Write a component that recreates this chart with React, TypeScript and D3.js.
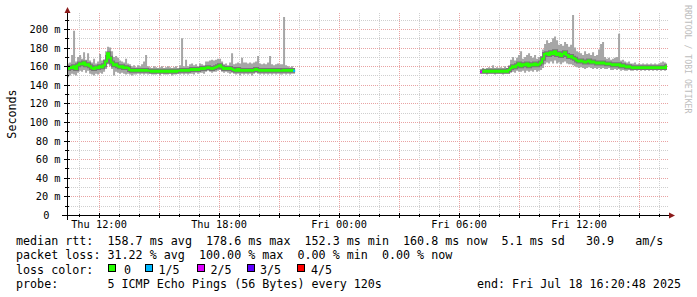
import React from 'react';
import * as d3 from 'd3';

// ---- time frame ----
const END = new Date(2025, 6, 18, 16, 20, 48);
const START = new Date(END.getTime() - 30 * 3600 * 1000);
const STEP_MIN = 6;

// ---- segment 1 (Thu) ----
const seg1Start = new Date(2025, 6, 17, 10, 24, 0);
const seg1Median = [
  157, 159, 158, 160, 157, 161, 163, 162, 164, 161, 162, 160, 158, 157, 159, 158, 160, 159, 161, 165,
  174, 169, 164, 161, 162, 160, 159, 160, 158, 159, 158, 156, 155, 156, 155, 156, 155, 156, 155, 156,
  155, 155, 154, 155, 154, 155, 154, 155, 154, 155, 154, 155, 154, 155, 154, 155, 155, 156, 155, 156,
  155, 156, 157, 156, 157, 156, 157, 158, 157, 158, 159, 158, 157, 158, 159, 160, 161, 159, 157, 158,
  157, 158, 157, 156, 155, 157, 155, 156, 155, 156, 155, 156, 155, 156, 157, 156, 155, 156, 155, 156,
  155, 156, 155, 156, 155, 156, 155, 155, 156, 155, 156, 155, 156, 155,
];
const seg1Min = [
  148, 150, 152, 151, 150, 153, 155, 154, 156, 153, 155, 152, 151, 150, 152, 151, 153, 152, 154, 157,
  162, 160, 157, 150, 154, 153, 152, 153, 152, 151, 152, 151, 150, 151, 151, 152, 151, 152, 151, 152,
  151, 152, 151, 151, 151, 152, 150, 152, 151, 151, 151, 152, 150, 151, 151, 152, 151, 152, 151, 152,
  151, 152, 152, 151, 153, 152, 153, 153, 152, 154, 155, 154, 153, 154, 154, 155, 156, 154, 153, 154,
  153, 152, 153, 152, 151, 152, 150, 152, 151, 152, 151, 152, 150, 152, 153, 152, 151, 152, 151, 152,
  151, 152, 151, 152, 151, 152, 151, 151, 152, 151, 152, 151, 152, 152,
];
const seg1Max = [
  163, 164, 172, 198, 165, 170, 172, 168, 175, 167, 174, 166, 164, 168, 163, 165, 173, 166, 167, 172,
  181, 180, 176, 170, 171, 169, 166, 165, 164, 168, 163, 162, 160, 161, 159, 161, 160, 162, 165, 172,
  160, 159, 158, 160, 159, 158, 159, 160, 158, 159, 160, 159, 158, 159, 160, 158, 161, 190, 160, 167,
  160, 162, 163, 161, 162, 160, 163, 162, 161, 165, 165, 166, 167, 166, 167, 168, 168, 165, 162, 163,
  161, 164, 174, 162, 163, 164, 163, 169, 164, 164, 163, 164, 163, 164, 165, 171, 163, 162, 163, 162,
  164, 171, 162, 161, 162, 163, 162, 162, 213, 161, 160, 159, 160, 158,
];

// ---- segment 2 (Fri) ----
const seg2Start = new Date(2025, 6, 18, 7, 3, 0);
const seg2Median = [
  154, 154, 155, 154, 155, 154, 155, 154, 155, 154, 155, 154, 155, 154, 156, 158, 160, 159, 161, 163,
  160, 162, 161, 163, 160, 162, 161, 163, 161, 162, 164, 168, 173, 174, 172, 175, 173, 176, 172, 174,
  171, 173, 175, 172, 170, 171, 169, 168, 166, 165, 166, 165, 164, 165, 166, 164, 165, 164, 163, 164,
  163, 164, 163, 162, 163, 162, 161, 162, 161, 162, 160, 161, 160, 159, 160, 159, 158, 159, 158, 159,
  158, 159, 158, 159, 158, 159, 158, 159, 158, 159, 158, 159, 158, 160,
];
const seg2Min = [
  152, 152, 152, 151, 152, 152, 152, 151, 152, 152, 152, 151, 152, 152, 152, 153, 154, 153, 155, 154,
  154, 155, 153, 155, 154, 155, 154, 156, 154, 155, 156, 158, 162, 164, 163, 165, 163, 166, 163, 164,
  162, 164, 165, 163, 162, 162, 161, 160, 159, 158, 159, 158, 157, 158, 159, 158, 157, 158, 157, 158,
  157, 158, 157, 157, 158, 156, 156, 157, 156, 157, 155, 156, 155, 155, 156, 155, 155, 156, 155, 156,
  155, 156, 155, 156, 155, 156, 155, 156, 155, 156, 155, 156, 155, 156,
];
const seg2Max = [
  157, 158, 157, 158, 159, 158, 161, 158, 159, 158, 159, 158, 160, 158, 161, 167, 170, 166, 169, 172,
  176, 168, 170, 172, 174, 171, 169, 172, 168, 170, 171, 178, 184, 188, 185, 186, 190, 192, 188, 183,
  184, 182, 186, 184, 181, 183, 215, 180, 176, 175, 174, 172, 176, 173, 174, 172, 175, 171, 172, 178,
  184, 186, 170, 168, 169, 167, 168, 169, 170, 195, 166, 167, 165, 164, 165, 163, 163, 164, 162, 163,
  162, 163, 162, 163, 162, 163, 162, 163, 162, 163, 164, 165, 164, 163,
];

// ---- points with packet loss (segment, index, lost pings) ----
const lossSegments = [1, 2];
const lossIndices = [113, 0];
const lossCounts = [1, 2];

// ---- legend ----
const lossLabels = ['0', '1/5', '2/5', '3/5', '4/5'];
const lossColors = ['#26ff00', '#00b8ff', '#dd00ff', '#5e00ff', '#ff0000'];
const lossBoxX = [109, 146, 198, 247.5, 298];
const lossTextX = [124, 158.5, 210.5, 260, 311];

const yTickValues = [0, 20, 40, 60, 80, 100, 120, 140, 160, 180, 200];
const yTickLabels = ['0', '20 m', '40 m', '60 m', '80 m', '100 m', '120 m', '140 m', '160 m', '180 m', '200 m'];
const xLabelTimes = [
  new Date(2025, 6, 17, 12, 0, 0),
  new Date(2025, 6, 17, 18, 0, 0),
  new Date(2025, 6, 18, 0, 0, 0),
  new Date(2025, 6, 18, 6, 0, 0),
  new Date(2025, 6, 18, 12, 0, 0),
];
const xLabelTexts = ['Thu 12:00', 'Thu 18:00', 'Fri 00:00', 'Fri 06:00', 'Fri 12:00'];

const legendLines = [
  'median rtt:  158.7 ms avg  178.6 ms max  152.3 ms min  160.8 ms now  5.1 ms sd   30.9   am/s',
  'packet loss: 31.22 % avg  100.00 % max  0.00 % min  0.00 % now',
  'loss color:',
  'probe:       5 ICMP Echo Pings (56 Bytes) every 120s',
];
const endText = 'end: Fri Jul 18 16:20:48 2025';

const MONO = '"DejaVu Sans Mono", monospace';

type Pt = { t: Date; med: number; lo: number; hi: number };

function buildSeg(start: Date, med: number[], lo: number[], hi: number[]): Pt[] {
  const pts = med.map((m, i) => ({
    t: new Date(start.getTime() + i * STEP_MIN * 60000),
    med: m,
    lo: lo[i],
    hi: hi[i],
  }));
  const last = pts[pts.length - 1];
  pts.push({ ...last, t: new Date(last.t.getTime() + STEP_MIN * 60000) });
  return pts;
}

export default function App() {
  const W = 697;
  const H = 297;
  const x = d3.scaleTime().domain([START, END]).range([66, 666]);
  const y = d3.scaleLinear().domain([0, 217.2]).range([215, 13]);

  const segs = [
    buildSeg(seg1Start, seg1Median, seg1Min, seg1Max),
    buildSeg(seg2Start, seg2Median, seg2Min, seg2Max),
  ];

  const area = d3
    .area<Pt>()
    .x((d) => x(d.t))
    .y0((d) => y(d.lo))
    .y1((d) => y(d.hi))
    .curve(d3.curveStepAfter);
  const line = d3
    .line<Pt>()
    .x((d) => x(d.t))
    .y((d) => y(d.med))
    .curve(d3.curveStepAfter);

  const snap = (v: number) => Math.round(v) + 0.5;

  const hGrid = d3.range(10, 215, 10);
  const vGrid = d3.timeHour.range(START, END);

  const minorColor = '#cfcfcf';
  const majorColor = '#e9a3a3';

  return (
    <svg
      width={W}
      height={H}
      viewBox={`0 0 ${W} ${H}`}
      style={{ position: 'absolute', left: 0, top: 0, background: '#fff' }}
    >
      <rect x={0} y={0} width={W} height={H} fill="#ffffff" />
      <defs>
        <clipPath id="plotclip">
          <rect x={67} y={0} width={600} height={215} />
        </clipPath>
      </defs>

      {/* grid */}
      {hGrid.map((v) => {
        const major = v % 20 === 0;
        const yy = snap(y(v));
        return (
          <line
            key={'h' + v}
            x1={67}
            x2={668}
            y1={yy}
            y2={yy}
            stroke={major ? majorColor : minorColor}
            strokeWidth={1}
            strokeDasharray="1 1"
            shapeRendering="crispEdges"
          />
        );
      })}
      {vGrid.map((t) => {
        const major = t.getHours() % 3 === 0;
        const xx = snap(x(t) - 0.5);
        return (
          <line
            key={'v' + t.getTime()}
            x1={xx}
            x2={xx}
            y1={13}
            y2={215}
            stroke={major ? majorColor : minorColor}
            strokeWidth={1}
            strokeDasharray="1 1"
            shapeRendering="crispEdges"
          />
        );
      })}

      {/* smoke + median */}
      <g clipPath="url(#plotclip)">
        {segs.map((s, i) => (
          <path key={'a' + i} d={area(s) || ''} fill="#a6a6a6" />
        ))}
        {segs.map((s, i) => (
          <path
            key={'d' + i}
            d={line(s) || ''}
            fill="none"
            stroke="#3c3c3c"
            strokeOpacity={0.45}
            strokeWidth={4}
          />
        ))}
        {segs.map((s, i) => (
          <path key={'m' + i} d={line(s) || ''} fill="none" stroke={lossColors[0]} strokeWidth={2} />
        ))}
        {lossIndices.map((idx, k) => {
          const s = segs[lossSegments[k] - 1];
          const p = s[idx];
          const p2 = s[idx + 1];
          return (
            <line
              key={'l' + k}
              x1={x(p.t)}
              x2={x(p2.t)}
              y1={y(p.med)}
              y2={y(p.med)}
              stroke={lossColors[lossCounts[k]]}
              strokeWidth={2.4}
            />
          );
        })}
      </g>

      {/* axes */}
      <line x1={62} x2={669} y1={215.5} y2={215.5} stroke="#000" strokeWidth={1} shapeRendering="crispEdges" />
      <line x1={67.5} x2={67.5} y1={220} y2={11} stroke="#000" strokeWidth={1} shapeRendering="crispEdges" />
      {vGrid.map((t) => {
        const major = t.getHours() % 3 === 0;
        const xx = snap(x(t) - 0.5);
        return (
          <line
            key={'xt' + t.getTime()}
            x1={xx}
            x2={xx}
            y1={major ? 213 : 214}
            y2={major ? 218 : 217}
            stroke="#000"
            strokeWidth={1}
            shapeRendering="crispEdges"
          />
        );
      })}
      {hGrid.map((v) => {
        const major = v % 20 === 0;
        const yy = snap(y(v));
        return (
          <line
            key={'yt' + v}
            x1={major ? 64 : 65}
            x2={major ? 70 : 69}
            y1={yy}
            y2={yy}
            stroke="#000"
            strokeWidth={1}
            shapeRendering="crispEdges"
          />
        );
      })}
      <path d="M64.5,13 L67.5,7 L70.5,13 Z" fill="#8b1a1a" />
      <path d="M669,212.5 L675,215.5 L669,218.5 Z" fill="#8b1a1a" />

      {/* y tick labels */}
      {yTickValues.map((v, i) => (
        <text
          key={'yl' + v}
          x={v === 0 ? 49.5 : 60.5}
          y={snap(y(v)) + 3.4}
          fontFamily={MONO}
          fontSize={10.3}
          textAnchor="end"
          fill="#000"
        >
          {yTickLabels[i]}
        </text>
      ))}

      {/* x tick labels */}
      {xLabelTimes.map((t, i) => (
        <text
          key={'xl' + i}
          x={x(t)}
          y={227.8}
          fontFamily={MONO}
          fontSize={10.3}
          textAnchor="middle"
          fill="#000"
        >
          {xLabelTexts[i]}
        </text>
      ))}

      {/* unit label */}
      <text
        transform="translate(15.5,114) rotate(-90)"
        fontFamily={MONO}
        fontSize={11.7}
        textAnchor="middle"
        fill="#000"
      >
        Seconds
      </text>

      {/* watermark */}
      <text
        transform="translate(685,5) rotate(90)"
        fontFamily={MONO}
        fontSize={8.2}
        fill="#bdbdbd"
      >
        RRDTOOL / TOBI OETIKER
      </text>

      {/* legend */}
      {legendLines.map((s, i) => (
        <text
          key={'lg' + i}
          x={16}
          y={245 + i * 14.4}
          fontFamily={MONO}
          fontSize={11.7}
          fill="#000"
          style={{ whiteSpace: 'pre' }}
          xmlSpace="preserve"
        >
          {s}
        </text>
      ))}
      {lossLabels.map((lab, i) => (
        <g key={'lb' + i}>
          <rect
            x={lossBoxX[i] - 0.5}
            y={264.5}
            width={7}
            height={7}
            fill={lossColors[i]}
            stroke="#000"
            strokeWidth={1}
            shapeRendering="crispEdges"
          />
          <text x={lossTextX[i]} y={245 + 2 * 14.4} fontFamily={MONO} fontSize={11.7} fill="#000">
            {lab}
          </text>
        </g>
      ))}
      <text x={681} y={245 + 3 * 14.4} fontFamily={MONO} fontSize={11.7} textAnchor="end" fill="#000">
        {endText}
      </text>
    </svg>
  );
}
